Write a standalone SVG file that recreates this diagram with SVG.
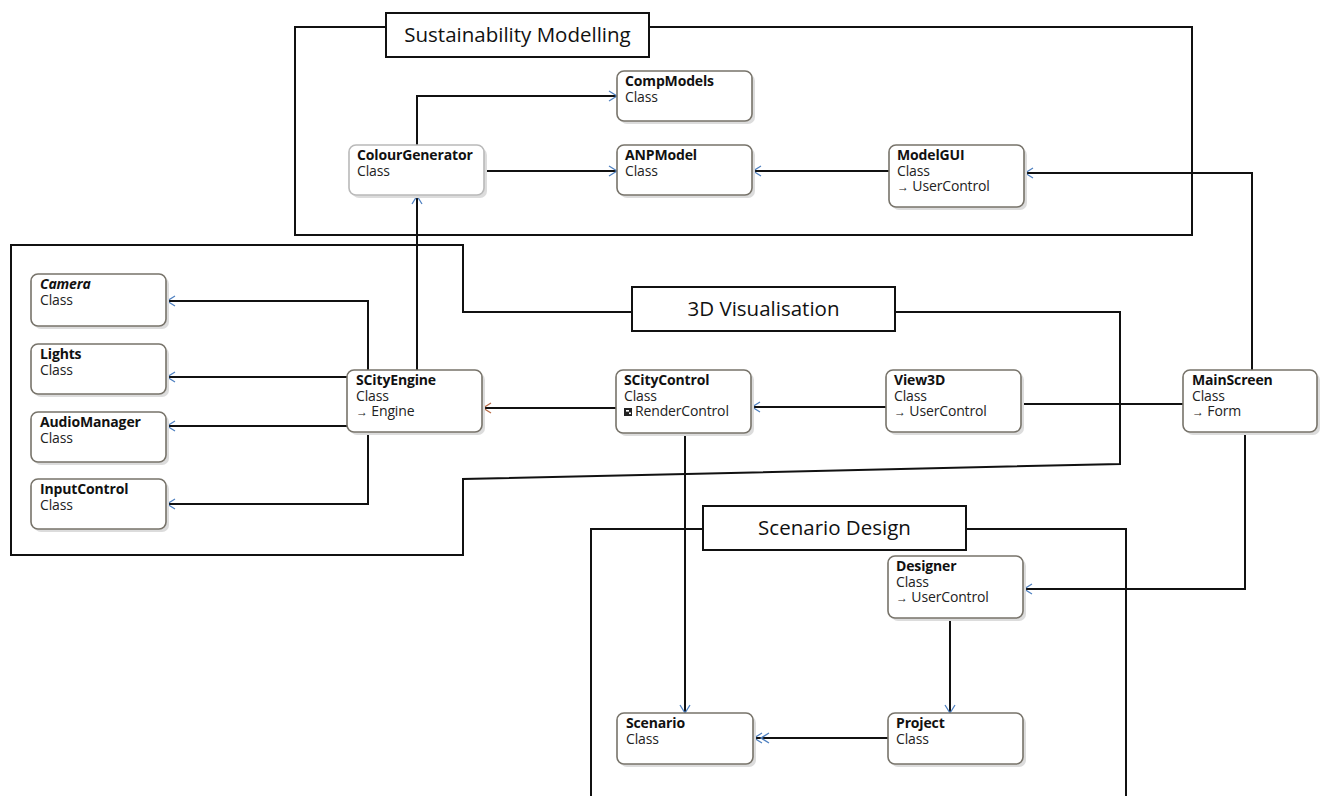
<svg xmlns="http://www.w3.org/2000/svg" width="1327" height="796" viewBox="0 0 1327 796">
  <style>
    .region { fill: none; stroke: #111; stroke-width: 2; }
    .title { fill: #fff; stroke: #111; stroke-width: 2; }
    .title-text { font-family: "Open Sans", "Noto Sans", sans-serif; font-size: 20.5px; fill: #111; text-anchor: middle; }
    .box { fill: #fff; stroke: #77736a; stroke-width: 1.6; }
    .box.light { stroke: #b9b9b9; }
    .shadow { fill: #dcdcdc; }
    .name { font-family: "Open Sans", "Noto Sans", sans-serif; font-size: 14px; font-weight: bold; fill: #111; letter-spacing: -0.15px; }
    .name.abstract { font-style: italic; }
    .sub { font-family: "Open Sans", "Noto Sans", sans-serif; font-size: 14px; fill: #222; letter-spacing: -0.15px; }
    .inh { font-size: 12px; }
    .conn { fill: none; stroke: #111; stroke-width: 2; }
  </style>
  <defs>
    <marker id="open" markerWidth="12" markerHeight="12" refX="9" refY="6" orient="auto" markerUnits="userSpaceOnUse">
      <path d="M1,1 L9,6 L1,11" fill="none" stroke="#4f80c0" stroke-width="1.3"/>
    </marker>
    <marker id="open-brown" markerWidth="12" markerHeight="12" refX="9" refY="6" orient="auto" markerUnits="userSpaceOnUse">
      <path d="M1,1 L9,6 L1,11" fill="none" stroke="#b86a45" stroke-width="1.3"/>
    </marker>
    <marker id="double" markerWidth="20" markerHeight="12" refX="16" refY="6" orient="auto" markerUnits="userSpaceOnUse">
      <path d="M1,1 L9,6 L1,11 M8,1 L16,6 L8,11" fill="none" stroke="#4f80c0" stroke-width="1.3"/>
    </marker>
  </defs>

  <rect width="1327" height="796" fill="#fff"/>

  <!-- package outlines -->
  <g id="regions">
    <g id="sustainability-modelling">
      <path class="region" d="M386,27 H295 V235 H1192 V27 H649"/>
      <rect class="title" x="386" y="13" width="263" height="44"/>
      <text class="title-text" x="517.5" y="42">Sustainability Modelling</text>
    </g>
    <g id="visualisation-3d">
      <path class="region" d="M632,312 H463 V245 H11 V555 H463 V479 L1120,464 V312 H895"/>
      <rect class="title" x="632" y="287" width="263" height="44"/>
      <text class="title-text" x="763.5" y="316">3D Visualisation</text>
    </g>
    <g id="scenario-design">
      <path class="region" d="M703,529 H591 V796 M966,529 H1126 V796"/>
      <rect class="title" x="703" y="506" width="263" height="44"/>
      <text class="title-text" x="834.5" y="535">Scenario Design</text>
    </g>
  </g>

  <!-- connectors -->
  <g id="connectors">
    <path class="conn" d="M417,145 V96 H617" marker-end="url(#open)"/>
    <path class="conn" d="M484,171 H617" marker-end="url(#open)"/>
    <path class="conn" d="M889,171 H753" marker-end="url(#open)"/>
    <path class="conn" d="M1252,370 V173 H1025" marker-end="url(#open)"/>
    <path class="conn" d="M417,370 V196" marker-end="url(#open)"/>
    <path class="conn" d="M368,370 V301 H167" marker-end="url(#open)"/>
    <path class="conn" d="M347,377 H167" marker-end="url(#open)"/>
    <path class="conn" d="M347,426 H167" marker-end="url(#open)"/>
    <path class="conn" d="M368,432 V504 H167" marker-end="url(#open)"/>
    <path class="conn" d="M616,408 H483" marker-end="url(#open-brown)"/>
    <path class="conn" d="M886,407 H752" marker-end="url(#open)"/>
    <path class="conn" d="M1021,404 H1183"/>
    <path class="conn" d="M685,433 V713" marker-end="url(#open)"/>
    <path class="conn" d="M950,618 V713" marker-end="url(#open)"/>
    <path class="conn" d="M888,738 H754" marker-end="url(#double)"/>
    <path class="conn" d="M1245,432 V589 H1024" marker-end="url(#open)"/>
  </g>

  <!-- class nodes -->
  <g id="CompModels">
    <rect class="shadow" x="620" y="74" width="135" height="50" rx="7"/>
    <rect class="box" x="617" y="71" width="135" height="50" rx="7"/>
    <text class="name" x="625" y="86">CompModels</text>
    <text class="sub" x="625" y="102">Class</text>
  </g>
  <g id="ColourGenerator">
    <rect class="shadow" x="352" y="148" width="135" height="50" rx="7"/>
    <rect class="box light" x="349" y="145" width="135" height="50" rx="7"/>
    <text class="name" x="357" y="160">ColourGenerator</text>
    <text class="sub" x="357" y="176">Class</text>
  </g>
  <g id="ANPModel">
    <rect class="shadow" x="620" y="148" width="135" height="50" rx="7"/>
    <rect class="box" x="617" y="145" width="135" height="50" rx="7"/>
    <text class="name" x="625" y="160">ANPModel</text>
    <text class="sub" x="625" y="176">Class</text>
  </g>
  <g id="ModelGUI">
    <rect class="shadow" x="892" y="148" width="135" height="62" rx="7"/>
    <rect class="box" x="889" y="145" width="135" height="62" rx="7"/>
    <text class="name" x="897" y="160">ModelGUI</text>
    <text class="sub" x="897" y="176">Class</text>
    <text class="sub" x="897" y="191"><tspan class="inh">→</tspan> UserControl</text>
  </g>
  <g id="Camera">
    <rect class="shadow" x="34" y="277" width="135" height="52" rx="7"/>
    <rect class="box" x="31" y="274" width="135" height="52" rx="7"/>
    <text class="name abstract" x="40" y="289">Camera</text>
    <text class="sub" x="40" y="305">Class</text>
  </g>
  <g id="Lights">
    <rect class="shadow" x="34" y="347" width="135" height="50" rx="7"/>
    <rect class="box" x="31" y="344" width="135" height="50" rx="7"/>
    <text class="name" x="40" y="359">Lights</text>
    <text class="sub" x="40" y="375">Class</text>
  </g>
  <g id="AudioManager">
    <rect class="shadow" x="34" y="415" width="135" height="50" rx="7"/>
    <rect class="box" x="31" y="412" width="135" height="50" rx="7"/>
    <text class="name" x="40" y="427">AudioManager</text>
    <text class="sub" x="40" y="443">Class</text>
  </g>
  <g id="InputControl">
    <rect class="shadow" x="34" y="482" width="135" height="50" rx="7"/>
    <rect class="box" x="31" y="479" width="135" height="50" rx="7"/>
    <text class="name" x="40" y="494">InputControl</text>
    <text class="sub" x="40" y="510">Class</text>
  </g>
  <g id="SCityEngine">
    <rect class="shadow" x="350" y="373" width="135" height="62" rx="7"/>
    <rect class="box" x="347" y="370" width="135" height="62" rx="7"/>
    <text class="name" x="356" y="385">SCityEngine</text>
    <text class="sub" x="356" y="401">Class</text>
    <text class="sub" x="356" y="416"><tspan class="inh">→</tspan> Engine</text>
  </g>
  <g id="SCityControl">
    <rect class="shadow" x="619" y="373" width="135" height="63" rx="7"/>
    <rect class="box" x="616" y="370" width="135" height="63" rx="7"/>
    <text class="name" x="624" y="385">SCityControl</text>
    <text class="sub" x="624" y="401">Class</text>
    <rect x="624" y="408" width="8" height="8" fill="#222"/>
    <rect x="626" y="410" width="3" height="1.6" fill="#fff"/>
    <rect x="629" y="412.5" width="2" height="1.6" fill="#fff"/>
    <text class="sub" x="635" y="416">RenderControl</text>
  </g>
  <g id="View3D">
    <rect class="shadow" x="889" y="373" width="135" height="62" rx="7"/>
    <rect class="box" x="886" y="370" width="135" height="62" rx="7"/>
    <text class="name" x="894" y="385">View3D</text>
    <text class="sub" x="894" y="401">Class</text>
    <text class="sub" x="894" y="416"><tspan class="inh">→</tspan> UserControl</text>
  </g>
  <g id="MainScreen">
    <rect class="shadow" x="1186" y="373" width="134" height="62" rx="7"/>
    <rect class="box" x="1183" y="370" width="134" height="62" rx="7"/>
    <text class="name" x="1192" y="385">MainScreen</text>
    <text class="sub" x="1192" y="401">Class</text>
    <text class="sub" x="1192" y="416"><tspan class="inh">→</tspan> Form</text>
  </g>
  <g id="Designer">
    <rect class="shadow" x="891" y="559" width="135" height="62" rx="7"/>
    <rect class="box" x="888" y="556" width="135" height="62" rx="7"/>
    <text class="name" x="896" y="571">Designer</text>
    <text class="sub" x="896" y="587">Class</text>
    <text class="sub" x="896" y="602"><tspan class="inh">→</tspan> UserControl</text>
  </g>
  <g id="Scenario">
    <rect class="shadow" x="620" y="716" width="136" height="51" rx="7"/>
    <rect class="box" x="617" y="713" width="136" height="51" rx="7"/>
    <text class="name" x="626" y="728">Scenario</text>
    <text class="sub" x="626" y="744">Class</text>
  </g>
  <g id="Project">
    <rect class="shadow" x="891" y="716" width="135" height="51" rx="7"/>
    <rect class="box" x="888" y="713" width="135" height="51" rx="7"/>
    <text class="name" x="896" y="728">Project</text>
    <text class="sub" x="896" y="744">Class</text>
  </g>
</svg>
